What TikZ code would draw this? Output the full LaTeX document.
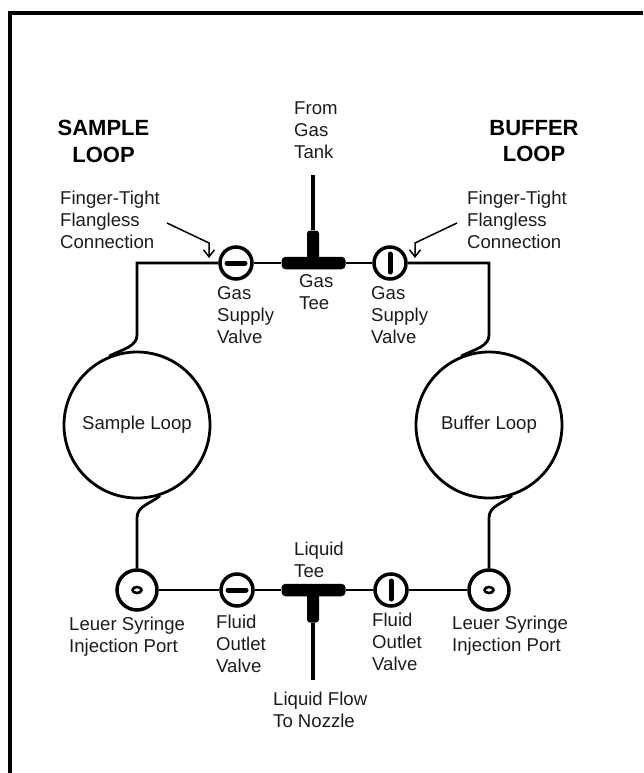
\documentclass[tikz,border=0pt]{standalone}
\usepackage{fontspec}
\setmainfont{Liberation Sans}
\usetikzlibrary{arrows.meta,shapes.geometric}
\definecolor{ink}{HTML}{1C1C1C}
\tikzset{
  pipe/.style={line width=2.8pt,line join=miter},
  feed/.style={line width=3.4pt},
  label/.style={inner sep=0pt,align=left,anchor=north west,text=ink,font=\fontsize{18.6}{22}\selectfont},
  head/.style={inner sep=0pt,align=center,anchor=north,text=black,font=\fontsize{22}{26.5}\selectfont\bfseries},
  loop/.style={circle,draw,line width=2.8pt,minimum size=146pt,inner sep=0pt,text=ink,font=\fontsize{18.6}{22}\selectfont},
  valve/.style={circle,draw,fill=white,line width=3.5pt,minimum size=32pt,inner sep=0pt},
  port/.style={circle,draw,fill=white,line width=3.5pt,minimum size=40pt,inner sep=0pt},
  hole/.style={ellipse,draw,fill=white,line width=2.6pt,minimum width=9pt,minimum height=6pt,inner sep=0pt},
  teebar/.style={rectangle,fill=black,rounded corners=4pt,minimum width=64pt,minimum height=12.5pt,inner sep=0pt},
  teestem/.style={rectangle,fill=black,rounded corners=3pt,minimum width=12pt,minimum height=33pt,inner sep=0pt},
  slot/.style={line width=5pt,line cap=round},
  pointer/.style={line width=1.5pt,-{Straight Barb[length=7pt,width=11pt,line width=1.5pt]}}
}
\begin{document}
\begin{tikzpicture}[x=1pt,y=-1pt]
\useasboundingbox (0,0) rectangle (643,773);
\draw[line width=4.4pt] (10.2,773) -- (10.2,13.2) -- (643,13.2);

% junction points
\coordinate (tl) at (137,263);
\coordinate (tr) at (489,263);
\coordinate (bl1) at (137,335);
\coordinate (br1) at (489,335);
\coordinate (bl2) at (137,518);
\coordinate (br2) at (489,518);
\coordinate (gasend) at (313,175);
\coordinate (liqend) at (313,680);
\coordinate (al0) at (167,223);
\coordinate (al1) at (209,243);
\coordinate (al2) at (209,258);
\coordinate (ar0) at (457,223);
\coordinate (ar1) at (415,243);
\coordinate (ar2) at (415,258);

% main nodes
\node[loop] (sloop) at (137,425) {Sample Loop};
\node[loop] (bloop) at (489,425) {Buffer Loop};
\node[valve] (gv1) at (236,263) {};
\node[valve] (gv2) at (390,263) {};
\node[valve] (fv1) at (237,590) {};
\node[valve] (fv2) at (391,590) {};
\node[port] (p1) at (137,590) {};
\node[port] (p2) at (489,590) {};
\node[hole] (h1) at (137,590) {};
\node[hole] (h2) at (489,590) {};
\node[teebar] (gt) at (313.5,263) {};
\node[teestem] (gs) at (313,247) {};
\node[teebar] (lt) at (313.5,590) {};
\node[teestem] (ls) at (313,606) {};

% pipes
\draw[pipe] (sloop.112) .. controls (124,349) and (137,346) .. (bl1) -- (tl) -- (gv1);
\draw[pipe] (bloop.112) .. controls (476,349) and (489,346) .. (br1) -- (tr) -- (gv2);
\draw[pipe] (sloop.-72) .. controls (150,504) and (137,506) .. (bl2) -- (p1);
\draw[pipe] (bloop.-72) .. controls (502,504) and (489,506) .. (br2) -- (p2);
\draw[pipe] (gv1) -- (gt);
\draw[pipe] (gt) -- (gv2);
\draw[pipe] (p1) -- (fv1);
\draw[pipe] (fv1) -- (lt);
\draw[pipe] (lt) -- (fv2);
\draw[pipe] (fv2) -- (p2);
\draw[feed] (gs.north) -- (gasend);
\draw[feed] (ls.south) -- (liqend);

% valve slots
\draw[slot] ([xshift=-9pt]gv1.center) -- ([xshift=9pt]gv1.center);
\draw[slot] ([yshift=-9pt]gv2.center) -- ([yshift=9pt]gv2.center);
\draw[slot] ([xshift=-9pt]fv1.center) -- ([xshift=9pt]fv1.center);
\draw[slot] ([yshift=-9pt]fv2.center) -- ([yshift=9pt]fv2.center);

% pointers
\draw[pointer] (al0) -- (al1) -- (al2);
\draw[pointer] (ar0) -- (ar1) -- (ar2);

% labels
\node[head] (hs) at (103.5,120) {SAMPLE\\LOOP};
\node[head] (hb) at (534,120) {BUFFER\\LOOP};
\node[label] (lgas) at (294,102) {From\\Gas\\Tank};
\node[label] (lf1) at (60,191) {Finger-Tight\\Flangless\\Connection};
\node[label] (lf2) at (467,191) {Finger-Tight\\Flangless\\Connection};
\node[label] (lv1) at (217,286) {Gas\\Supply\\Valve};
\node[label] (lv2) at (371,286) {Gas\\Supply\\Valve};
\node[label] (lgt) at (299,274) {Gas\\Tee};
\node[label] (lp1) at (69,617) {Leuer Syringe\\Injection Port};
\node[label] (lp2) at (452,616) {Leuer Syringe\\Injection Port};
\node[label] (lo1) at (216,615) {Fluid\\Outlet\\Valve};
\node[label] (lo2) at (372,613) {Fluid\\Outlet\\Valve};
\node[label] (llt) at (294,542) {Liquid\\Tee};
\node[label] (lfl) at (273,692) {Liquid Flow\\To Nozzle};
\end{tikzpicture}
\end{document}
